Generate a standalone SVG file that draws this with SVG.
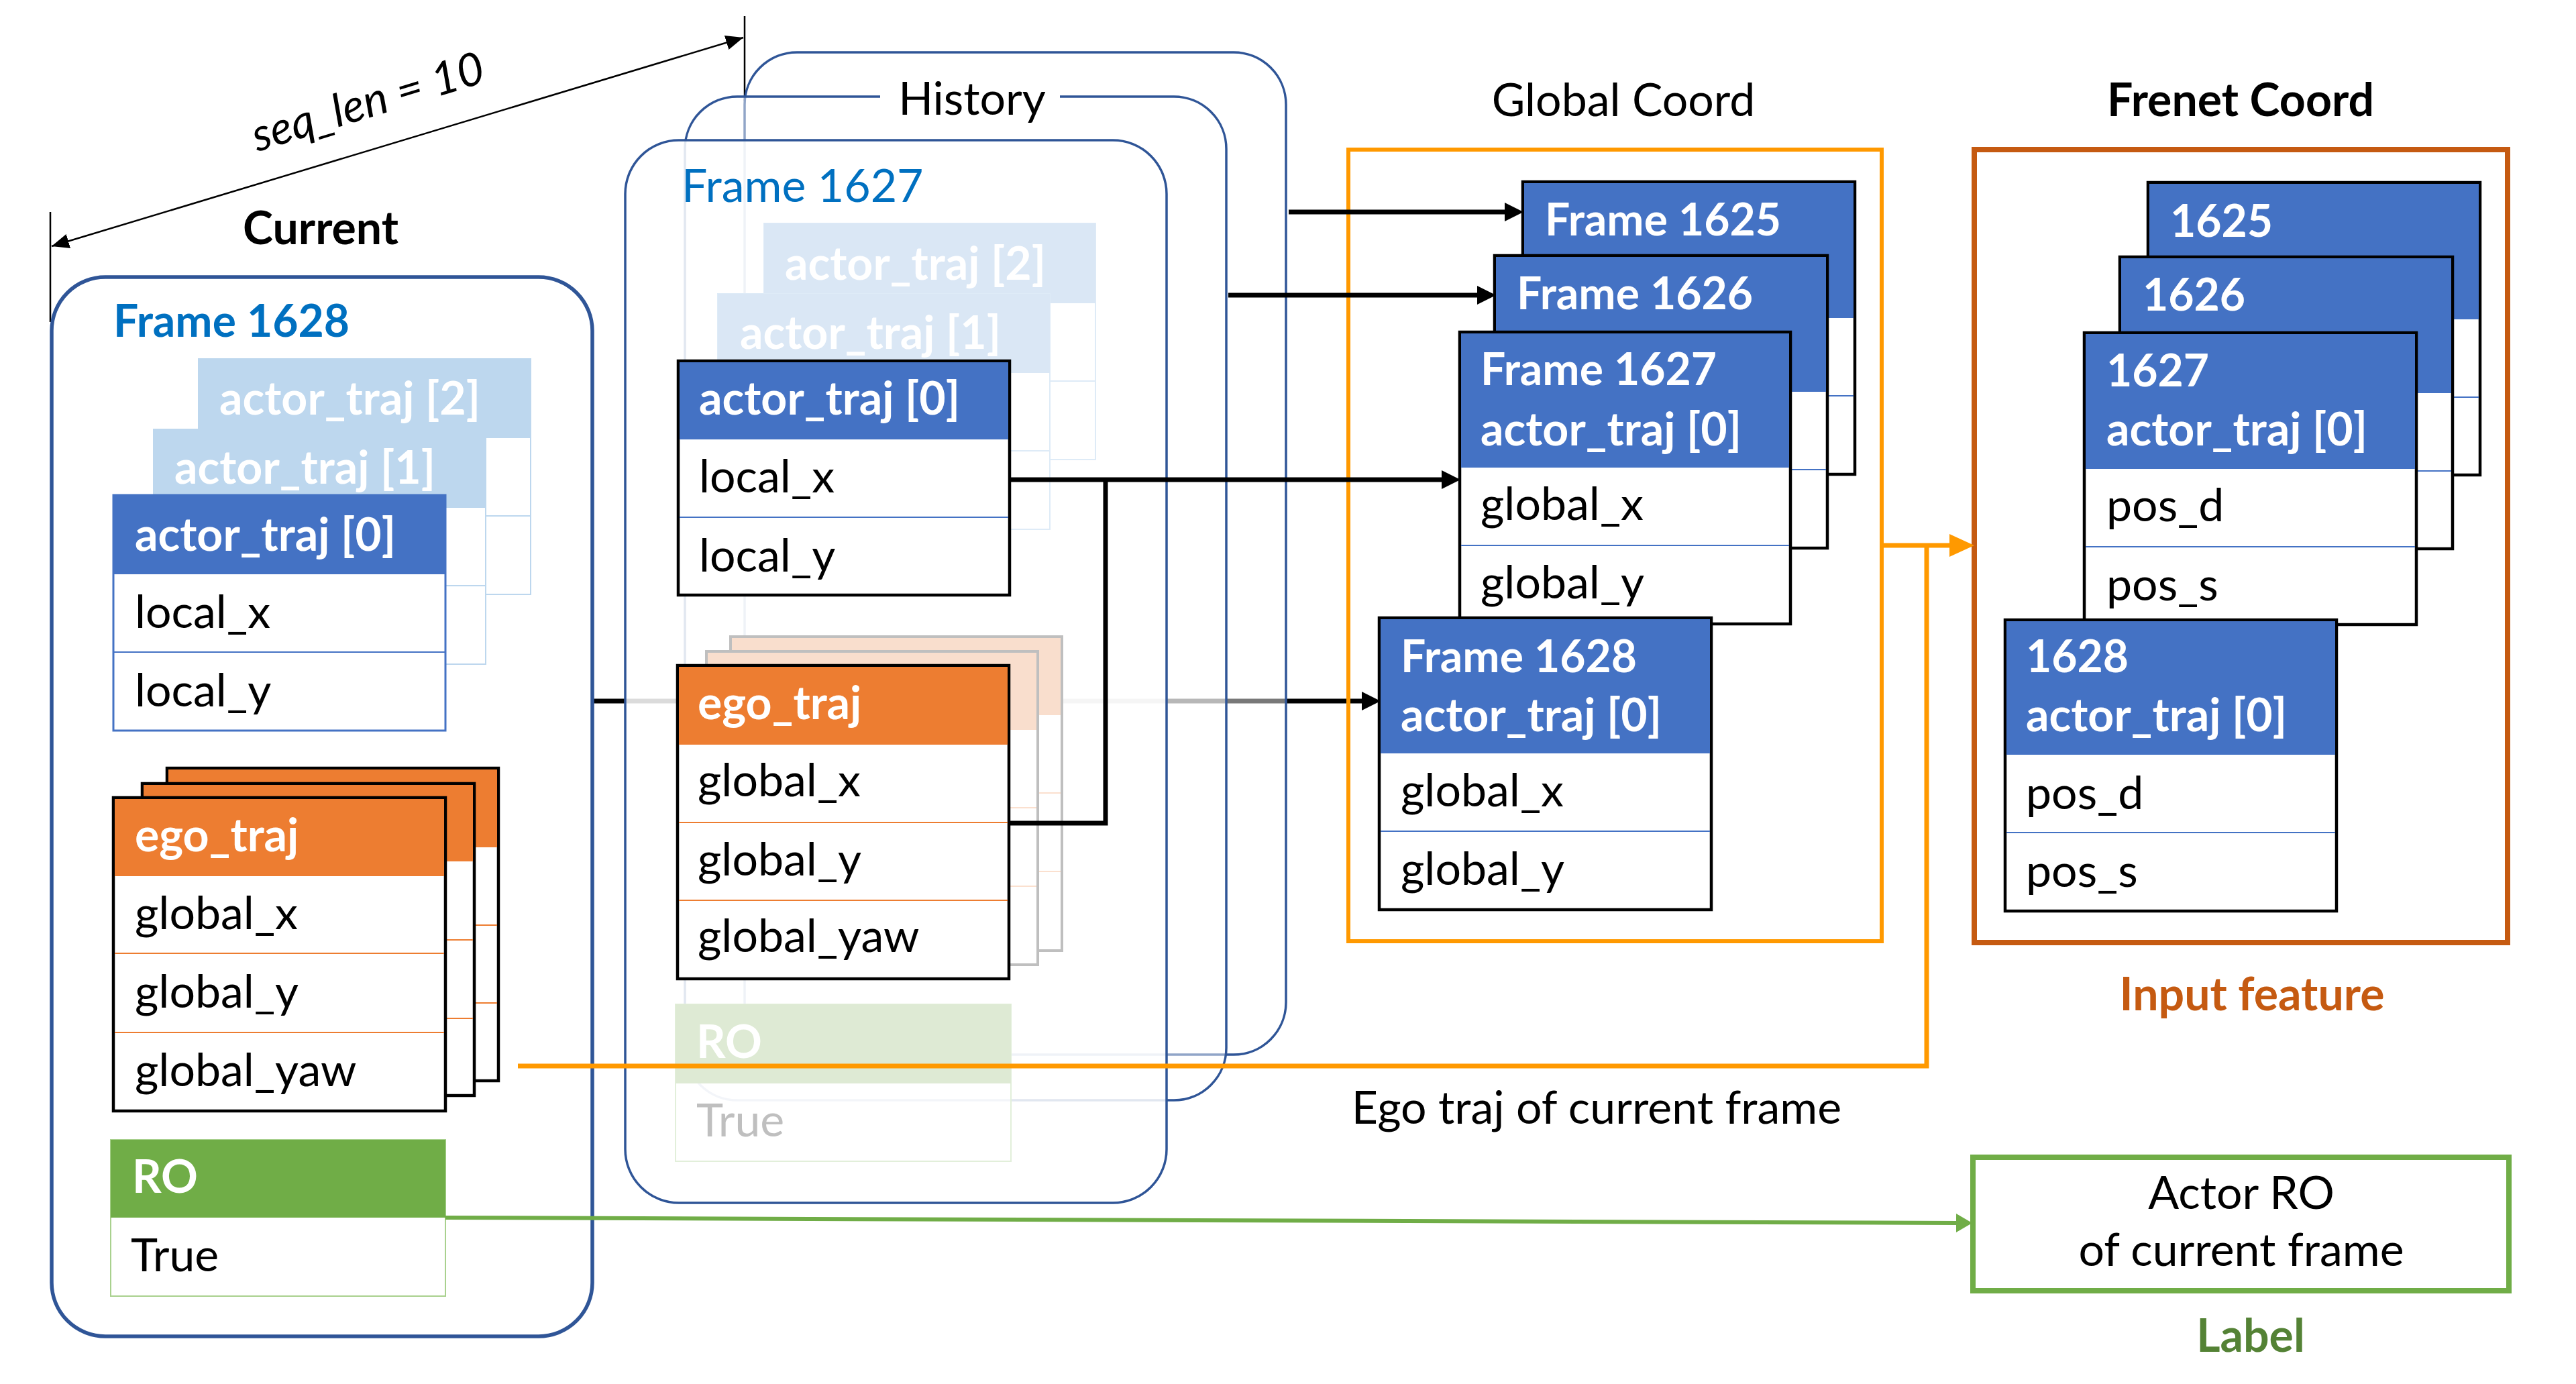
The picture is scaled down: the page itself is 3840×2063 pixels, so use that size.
<svg xmlns="http://www.w3.org/2000/svg" width="3840" height="2063" viewBox="0 0 3840 2063">
<defs>
<style>
text{font-family:Lato,"Liberation Sans",sans-serif;font-size:68px;fill:#000}
.b{font-weight:bold}
.w{fill:#fff;font-weight:bold}
.c{text-anchor:middle}
.n{font-size:66px}
.blk{fill:#fff;stroke:#000;stroke-width:4.5}
.sepb{stroke:#4472C4;stroke-width:2}
.sepo{stroke:#ED7D31;stroke-width:2}
.con{fill:none;stroke:#000;stroke-width:7}
</style>
<marker id="ah" viewBox="0 0 28 28" refX="6" refY="14" markerWidth="28" markerHeight="28" orient="auto" markerUnits="userSpaceOnUse"><path d="M0,0 L28,14 L0,28 z" fill="#000"/></marker>
<marker id="ahd" viewBox="0 0 26 22" refX="26" refY="11" markerWidth="26" markerHeight="22" orient="auto-start-reverse" markerUnits="userSpaceOnUse"><path d="M0,0 L26,11 L0,22 z" fill="#000"/></marker>
<marker id="aho" viewBox="0 0 37 34" refX="11" refY="17" markerWidth="37" markerHeight="34" orient="auto" markerUnits="userSpaceOnUse"><path d="M0,0 L37,17 L0,34 z" fill="#FF9900"/></marker>
<marker id="ahg" viewBox="0 0 24 28" refX="2" refY="14" markerWidth="24" markerHeight="28" orient="auto" markerUnits="userSpaceOnUse"><path d="M0,0 L24,14 L0,28 z" fill="#70AD47"/></marker>
</defs>
<rect width="3840" height="2063" fill="#fff"/>

<g id="connector-under">
<path class="con" d="M884,1045 H2036" marker-end="url(#ah)"/>
</g>

<g id="dimension">
<path d="M75,316 V480 M1110,24 V150" stroke="#000" stroke-width="2.5" fill="none"/>
<path d="M77,367 L1108,56" stroke="#000" stroke-width="2.5" fill="none" marker-start="url(#ahd)" marker-end="url(#ahd)"/>
<text x="555" y="174" font-style="italic" font-size="56" class="c" transform="rotate(-17 555 174)">seq_len = 10</text>
</g>

<g id="current">
<rect x="77" y="413" width="806" height="1579" rx="80" fill="#fff" stroke="#2F5597" stroke-width="5.5"/>
<text x="478" y="364" class="c b" font-size="67">Current</text>
<text x="169" y="502" class="b n" style="fill:#0070C0">Frame 1628</text>
<g id="cur-actor2">
<rect x="296" y="535" width="495" height="351" fill="#fff" stroke="#BDD7EE" stroke-width="2"/>
<rect x="296" y="535" width="495" height="118" fill="#BDD7EE"/>
<line x1="296" y1="769" x2="791" y2="769" stroke="#BDD7EE" stroke-width="2"/>
<text x="327" y="618" class="w">actor_traj [2]</text>
</g>
<g id="cur-actor1">
<rect x="229" y="640" width="495" height="350" fill="#fff" stroke="#BDD7EE" stroke-width="2"/>
<rect x="229" y="640" width="495" height="117" fill="#BDD7EE"/>
<line x1="229" y1="873" x2="724" y2="873" stroke="#BDD7EE" stroke-width="2"/>
<text x="260" y="721" class="w">actor_traj [1]</text>
</g>
<g id="cur-actor0">
<rect x="169" y="738" width="495" height="351" fill="#fff" stroke="#4472C4" stroke-width="3"/>
<rect x="169" y="738" width="495" height="118" fill="#4472C4"/>
<line class="sepb" x1="169" y1="972" x2="664" y2="972"/>
<text x="201" y="821" class="w">actor_traj [0]</text>
<text x="201" y="936">local_x</text>
<text x="201" y="1053">local_y</text>
</g>
<g id="cur-ego3">
<rect class="blk" x="249" y="1145" width="494" height="466"/>
<rect x="251" y="1147" width="490" height="116" fill="#ED7D31"/>
<path class="sepo" d="M251,1379 H741 M251,1495 H741"/>
</g>
<g id="cur-ego2">
<rect class="blk" x="212" y="1168" width="495" height="465"/>
<rect x="214" y="1170" width="491" height="114" fill="#ED7D31"/>
<path class="sepo" d="M214,1401 H705 M214,1518 H705"/>
</g>
<g id="cur-ego1">
<rect class="blk" x="169" y="1189" width="495" height="467"/>
<rect x="171" y="1191" width="491" height="115" fill="#ED7D31"/>
<path class="sepo" d="M171,1421 H662 M171,1539 H662"/>
<text x="201" y="1269" class="w">ego_traj</text>
<text x="201" y="1385">global_x</text>
<text x="201" y="1502">global_y</text>
<text x="201" y="1619">global_yaw</text>
</g>
<g id="cur-ro">
<rect x="165" y="1699" width="499" height="233" fill="#fff" stroke="#A9D18E" stroke-width="2"/>
<rect x="165" y="1699" width="499" height="116" fill="#70AD47"/>
<text x="197" y="1778" class="w">RO</text>
<text x="195" y="1895">True</text>
</g>
</g>

<g id="history">
<rect id="hist-back" x="1110" y="78" width="807" height="1494" rx="78" fill="#fff" fill-opacity="0.47" stroke="#2F5597" stroke-width="3.5"/>
<rect id="hist-mid" x="1021" y="144" width="807" height="1496" rx="78" fill="#fff" fill-opacity="0.47" stroke="#2F5597" stroke-width="3.5"/>
<rect x="1312" y="138" width="268" height="12" fill="#fff"/>
<text x="1449" y="171" class="c" font-size="65">History</text>
<rect id="hist-front" x="932" y="209" width="807" height="1584" rx="80" fill="#fff" fill-opacity="0.86" stroke="#2F5597" stroke-width="3.5"/>
<text x="1016" y="301" font-size="65" style="fill:#0070C0">Frame 1627</text>
<g id="his-actor2">
<rect x="1139" y="333" width="494" height="352" fill="#fff" stroke="#DEEBF7" stroke-width="2"/>
<rect x="1139" y="333" width="494" height="119" fill="#DAE7F5"/>
<line x1="1139" y1="568" x2="1633" y2="568" stroke="#DEEBF7" stroke-width="2"/>
<text x="1170" y="417" class="w">actor_traj [2]</text>
</g>
<g id="his-actor1">
<rect x="1070" y="438" width="495" height="351" fill="#fff" stroke="#DEEBF7" stroke-width="2"/>
<rect x="1070" y="438" width="495" height="118" fill="#DAE7F5"/>
<line x1="1070" y1="672" x2="1565" y2="672" stroke="#DEEBF7" stroke-width="2"/>
<text x="1103" y="520" class="w">actor_traj [1]</text>
</g>
<g id="his-actor0">
<rect class="blk" x="1011" y="538" width="494" height="349"/>
<rect x="1013" y="540" width="490" height="115" fill="#4472C4"/>
<line class="sepb" x1="1013" y1="771" x2="1503" y2="771"/>
<text x="1042" y="618" class="w">actor_traj [0]</text>
<text x="1042" y="734">local_x</text>
<text x="1042" y="852">local_y</text>
</g>
<g id="his-ego3">
<rect x="1089" y="949" width="494" height="468" fill="#fff" stroke="#BFBFBF" stroke-width="4"/>
<rect x="1091" y="951" width="490" height="115" fill="#F9DECD"/>
<path d="M1091,1182 H1581 M1091,1299 H1581" stroke="#FBE0CF" stroke-width="2"/>
</g>
<g id="his-ego2">
<rect x="1053" y="971" width="494" height="467" fill="#fff" stroke="#BFBFBF" stroke-width="4"/>
<rect x="1055" y="973" width="490" height="115" fill="#F9DECD"/>
<path d="M1055,1204 H1545 M1055,1321 H1545" stroke="#FBE0CF" stroke-width="2"/>
</g>
<g id="his-ego1">
<rect class="blk" x="1010" y="992" width="494" height="467"/>
<rect x="1012" y="994" width="490" height="116" fill="#ED7D31"/>
<path class="sepo" d="M1012,1226 H1502 M1012,1342 H1502"/>
<text x="1040" y="1072" class="w">ego_traj</text>
<text x="1040" y="1187">global_x</text>
<text x="1040" y="1305">global_y</text>
<text x="1040" y="1419">global_yaw</text>
</g>
<g id="his-ro">
<rect x="1007" y="1497" width="500" height="234" fill="#fff" fill-opacity="0.6" stroke="#E2EFDA" stroke-width="2"/>
<rect x="1007" y="1497" width="500" height="118" fill="#DEEAD4"/>
<text x="1038" y="1577" class="w">RO</text>
<text x="1038" y="1694" style="fill:#BFBFBF">True</text>
</g>
</g>

<g id="global-coord">
<text x="2420" y="173" class="c" font-size="66">Global Coord</text>
<rect x="2010" y="223" width="795" height="1180" fill="none" stroke="#FF9900" stroke-width="6"/>
<g id="g1625">
<rect class="blk" x="2270" y="271" width="495" height="436"/>
<rect x="2272" y="273" width="491" height="201" fill="#4472C4"/>
<line class="sepb" x1="2272" y1="590" x2="2763" y2="590"/>
<text x="2303" y="351" class="w n">Frame 1625</text>
</g>
<g id="g1626">
<rect class="blk" x="2228" y="381" width="496" height="436"/>
<rect x="2230" y="383" width="492" height="201" fill="#4472C4"/>
<line class="sepb" x1="2230" y1="700" x2="2722" y2="700"/>
<text x="2261" y="461" class="w n">Frame 1626</text>
</g>
<g id="g1627">
<rect class="blk" x="2176" y="495" width="493" height="435"/>
<rect x="2178" y="497" width="489" height="200" fill="#4472C4"/>
<line class="sepb" x1="2178" y1="813" x2="2667" y2="813"/>
<text x="2207" y="574" class="w n">Frame 1627</text>
<text x="2207" y="664" class="w">actor_traj [0]</text>
<text x="2207" y="775">global_x</text>
<text x="2207" y="892">global_y</text>
</g>
<g id="g1628">
<rect class="blk" x="2056" y="921" width="495" height="435"/>
<rect x="2058" y="923" width="491" height="200" fill="#4472C4"/>
<line class="sepb" x1="2058" y1="1239" x2="2549" y2="1239"/>
<text x="2088" y="1002" class="w n">Frame 1628</text>
<text x="2088" y="1090" class="w">actor_traj [0]</text>
<text x="2088" y="1202">global_x</text>
<text x="2088" y="1319">global_y</text>
</g>
</g>

<g id="frenet-coord">
<text x="3340" y="173" class="c b" font-size="66">Frenet Coord</text>
<rect x="2943" y="223" width="795" height="1182" fill="none" stroke="#C55A11" stroke-width="8"/>
<g id="f1625">
<rect class="blk" x="3202" y="272" width="495" height="436"/>
<rect x="3204" y="274" width="491" height="202" fill="#4472C4"/>
<line class="sepb" x1="3204" y1="592" x2="3695" y2="592"/>
<text x="3235" y="353" class="w n">1625</text>
</g>
<g id="f1626">
<rect class="blk" x="3160" y="383" width="496" height="435"/>
<rect x="3162" y="385" width="492" height="201" fill="#4472C4"/>
<line class="sepb" x1="3162" y1="702" x2="3654" y2="702"/>
<text x="3194" y="463" class="w n">1626</text>
</g>
<g id="f1627">
<rect class="blk" x="3107" y="496" width="495" height="435"/>
<rect x="3109" y="498" width="491" height="201" fill="#4472C4"/>
<line class="sepb" x1="3109" y1="815" x2="3600" y2="815"/>
<text x="3140" y="576" class="w n">1627</text>
<text x="3140" y="664" class="w">actor_traj [0]</text>
<text x="3140" y="777">pos_d</text>
<text x="3140" y="895">pos_s</text>
</g>
<g id="f1628">
<rect class="blk" x="2989" y="924" width="494" height="434"/>
<rect x="2991" y="926" width="490" height="199" fill="#4472C4"/>
<line class="sepb" x1="2991" y1="1241" x2="3481" y2="1241"/>
<text x="3020" y="1002" class="w n">1628</text>
<text x="3020" y="1090" class="w">actor_traj [0]</text>
<text x="3020" y="1206">pos_d</text>
<text x="3020" y="1322">pos_s</text>
</g>
<text x="3357" y="1506" class="c b" font-size="70" style="fill:#C55A11">Input feature</text>
</g>

<g id="label">
<rect x="2941" y="1725" width="799" height="199" fill="#fff" stroke="#70AD47" stroke-width="8"/>
<text x="3341" y="1802" class="c" font-size="69">Actor RO</text>
<text x="3341" y="1887" class="c" font-size="69">of current frame</text>
<text x="3355" y="2015" class="c b" font-size="67" style="fill:#548235">Label</text>
</g>

<g id="connectors">
<path class="con" d="M1921,316 H2249" marker-end="url(#ah)"/>
<path class="con" d="M1831,440 H2208" marker-end="url(#ah)"/>
<path class="con" d="M1505,715 H2155" marker-end="url(#ah)"/>
<path class="con" d="M1648,715 V1227 H1505"/>
<path d="M772,1589 H2872 V813" fill="none" stroke="#FF9900" stroke-width="7"/>
<path d="M2805,813 H2917" fill="none" stroke="#FF9900" stroke-width="7" marker-end="url(#aho)"/>
<path d="M664,1815 L2918,1823" fill="none" stroke="#70AD47" stroke-width="6" marker-end="url(#ahg)"/>
<text x="2380" y="1675" class="c" font-size="67.5">Ego traj of current frame</text>
</g>
</svg>
